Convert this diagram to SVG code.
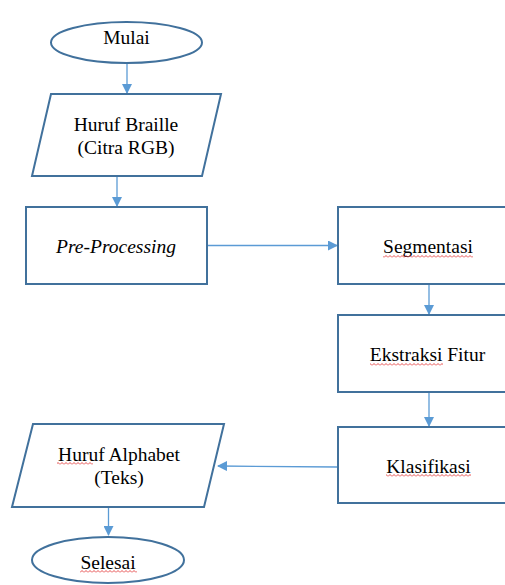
<svg xmlns="http://www.w3.org/2000/svg" width="505" height="585" viewBox="0 0 505 585">
<style>
.shape{fill:#ffffff;stroke:#41719c;stroke-width:2}
.conn{stroke:#5b9bd5;stroke-width:1.3;fill:none}
.t{font-family:"Liberation Serif","Times New Roman",serif;font-size:19.5px;fill:#000;text-anchor:middle}
.it{font-style:italic}
.sq{fill:url(#sq)}
</style>
<defs>
<marker id="ah" markerWidth="10" markerHeight="10" refX="9" refY="5" orient="auto" markerUnits="userSpaceOnUse">
<path d="M0,0 L10,5 L0,10 z" fill="#5b9bd5"/>
</marker>
<pattern id="sq" width="4" height="3" patternUnits="userSpaceOnUse">
<path d="M0,2.5 L2,0.5 L4,2.5" fill="none" stroke="#e02020" stroke-width="0.8"/>
</pattern>
</defs>
<rect width="505" height="585" fill="#ffffff"/>
<g id="connectors">
<line class="conn" x1="127" y1="63" x2="127" y2="93" marker-end="url(#ah)"/>
<line class="conn" x1="117" y1="176" x2="117" y2="206" marker-end="url(#ah)"/>
<line class="conn" x1="207" y1="245.5" x2="337" y2="245.5" marker-end="url(#ah)"/>
<line class="conn" x1="429" y1="284" x2="429" y2="314" marker-end="url(#ah)"/>
<line class="conn" x1="429" y1="392" x2="429" y2="426" marker-end="url(#ah)"/>
<line class="conn" x1="337" y1="467" x2="218" y2="466" marker-end="url(#ah)"/>
<line class="conn" x1="108.5" y1="507" x2="108.5" y2="535" marker-end="url(#ah)"/>
</g>
<g id="mulai">
<ellipse class="shape" cx="126.5" cy="42.5" rx="75.5" ry="20.5"/>
<text class="t" x="126.5" y="43.5">Mulai</text>
</g>
<g id="huruf-braille">
<polygon class="shape" points="51,94 221,94 202,176 32,176"/>
<text class="t" x="126" y="130.5">Huruf Braille</text>
<text class="t" x="126" y="153.5">(Citra RGB)</text>
</g>
<g id="pre-processing">
<rect class="shape" x="26" y="207" width="181" height="77"/>
<text class="t it" x="116" y="252.5">Pre-Processing</text>
</g>
<g id="segmentasi">
<rect class="shape" x="338" y="207" width="180" height="77"/>
<text class="t" x="428" y="252.5">Segmentasi</text>
<rect class="sq" x="383" y="255" width="90" height="3"/>
</g>
<g id="ekstraksi-fitur">
<rect class="shape" x="338" y="315" width="180" height="77"/>
<text class="t" x="427.5" y="361">Ekstraksi Fitur</text>
<rect class="sq" x="370" y="363" width="73" height="3"/>
</g>
<g id="klasifikasi">
<rect class="shape" x="338" y="427" width="180" height="76"/>
<text class="t" x="428.5" y="472.5">Klasifikasi</text>
<rect class="sq" x="386" y="474" width="85" height="3"/>
</g>
<g id="huruf-alphabet">
<polygon class="shape" points="33,424 224,424 204,507 12,507"/>
<text class="t" x="119" y="461">Huruf Alphabet</text>
<text class="t" x="119" y="484">(Teks)</text>
<rect class="sq" x="57" y="462" width="36" height="3"/>
</g>
<g id="selesai">
<ellipse class="shape" cx="108" cy="560" rx="76" ry="23"/>
<text class="t" x="108" y="569">Selesai</text>
<rect class="sq" x="80" y="570" width="57" height="3"/>
</g>
</svg>
